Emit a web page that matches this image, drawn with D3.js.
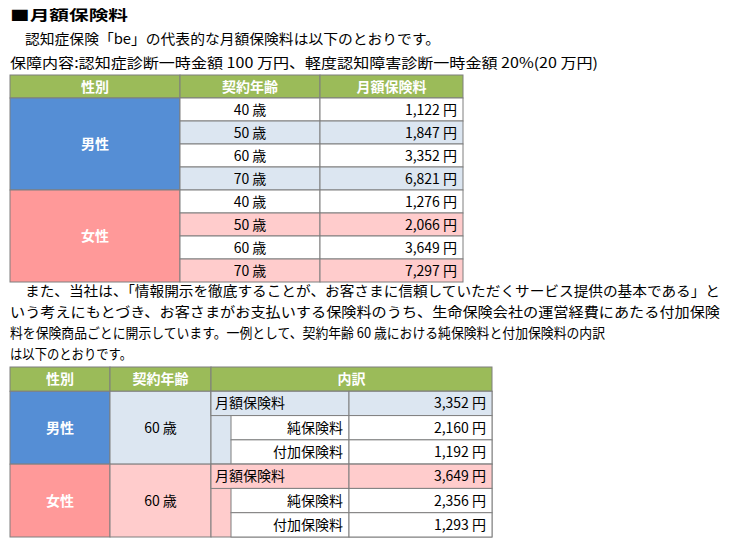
<!DOCTYPE html>
<html><head><meta charset="utf-8">
<script src="https://cdn.jsdelivr.net/npm/d3@7"></script>
<style>body{margin:0;background:#fff}text{font-family:"Noto Sans CJK JP",sans-serif}</style>
</head><body>
<script>
// data
const genders = ["男性", "女性"];
const ages = ["40 歳", "50 歳", "60 歳", "70 歳"];
const maleFees = [1122, 1847, 3352, 6821];
const femaleFees = [1276, 2066, 3649, 7297];
const breakdownLabels = ["月額保険料", "純保険料", "付加保険料"];
const maleBreakdown = [3352, 2160, 1192];
const femaleBreakdown = [3649, 2356, 1293];

const green = "#9bbb59", blue = "#558ed5", lblue = "#dce6f1", red = "#ff9999", pink = "#ffcccc";
const fmt = d => d3.format(",")(d) + " 円";

const svg = d3.select("body").append("svg").attr("width", 730).attr("height", 548);

// texts
const lines = [
  {t: "■月額保険料", x: 10, y: 20, w: 118, b: true},
  {t: "認知症保険「be」の代表的な月額保険料は以下のとおりです。", x: 25, y: 44, w: 415},
  {t: "保障内容:認知症診断一時金額 100 万円、軽度認知障害診断一時金額 20%(20 万円)", x: 10, y: 68, w: 588},
  {t: "また、当社は、「情報開示を徹底することが、お客さまに信頼していただくサービス提供の基本である」と", x: 25, y: 296, w: 695},
  {t: "いう考えにもとづき、お客さまがお支払いする保険料のうち、生命保険会社の運営経費にあたる付加保険", x: 10, y: 317, w: 710},
  {t: "料を保険商品ごとに開示しています。一例として、契約年齢 60 歳における純保険料と付加保険料の内訳", x: 10, y: 338, w: 595},
  {t: "は以下のとおりです。", x: 10, y: 359, w: 122}
];
svg.selectAll("text.line").data(lines).join("text")
  .attr("x", d => d.x).attr("y", d => d.y)
  .attr("font-size", 14).attr("font-weight", d => d.b ? "bold" : "normal")
  .attr("textLength", d => d.w).attr("lengthAdjust", "spacingAndGlyphs")
  .text(d => d.t);

function cell(x, y, w, h, fill, txt, anchor, color, bold) {
  svg.append("rect").attr("x", x).attr("y", y).attr("width", w).attr("height", h)
    .attr("fill", fill).attr("stroke", "#7f7f7f").attr("stroke-width", 1);
  if (txt == null) return;
  const tx = anchor === "middle" ? x + w / 2 : anchor === "end" ? x + w - 6 : x + 4;
  svg.append("text").attr("x", tx).attr("y", y + h / 2 + 5).attr("text-anchor", anchor)
    .attr("font-size", 14).attr("fill", color || "#000").attr("font-weight", bold ? "bold" : "normal")
    .text(txt);
}

// table 1
const y1 = d3.scaleBand().domain(d3.range(9)).range([75, 282]);
const h1 = y1.bandwidth();
cell(10, 75, 170, h1, green, "性別", "middle", "#fff", true);
cell(180, 75, 140, h1, green, "契約年齢", "middle", "#fff", true);
cell(320, 75, 143, h1, green, "月額保険料", "middle", "#fff", true);
[maleFees, femaleFees].forEach((fees, g) => {
  const start = 1 + g * 4;
  cell(10, y1(start), 170, h1 * 4, g ? red : blue, genders[g], "middle", "#fff", true);
  fees.forEach((v, i) => {
    const f = i % 2 ? (g ? pink : lblue) : "#fff";
    cell(180, y1(start + i), 140, h1, f, ages[i], "middle");
    cell(320, y1(start + i), 143, h1, f, fmt(v), "end");
  });
});

// table 2
const y2 = d3.scaleBand().domain(d3.range(7)).range([367, 537]);
const h2 = y2.bandwidth();
cell(10, 367, 100, h2, green, "性別", "middle", "#fff", true);
cell(110, 367, 101, h2, green, "契約年齢", "middle", "#fff", true);
cell(211, 367, 281, h2, green, "内訳", "middle", "#fff", true);
[maleBreakdown, femaleBreakdown].forEach((vals, g) => {
  const start = 1 + g * 3;
  const lf = g ? pink : lblue;
  cell(10, y2(start), 100, h2 * 3, g ? red : blue, genders[g], "middle", "#fff", true);
  cell(110, y2(start), 101, h2 * 3, lf, "60 歳", "middle");
  cell(211, y2(start), 281, h2 * 3, lf, null);
  vals.forEach((v, i) => {
    const y = y2(start + i);
    if (i === 0) {
      cell(211, y, 138, h2, lf, breakdownLabels[i], "start");
      cell(349, y, 143, h2, lf, fmt(v), "end");
    } else {
      cell(231, y, 118, h2, "#fff", breakdownLabels[i], "end");
      cell(349, y, 143, h2, "#fff", fmt(v), "end");
    }
  });
});
</script>
</body></html>
